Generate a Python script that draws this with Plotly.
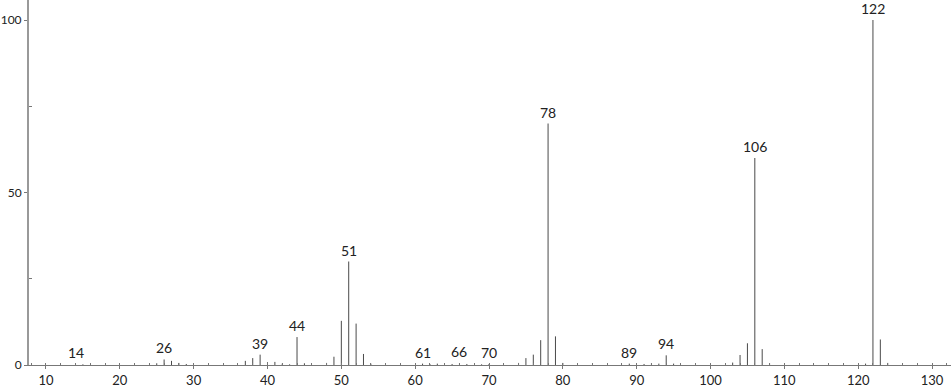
import plotly.graph_objects as go

# m/z values and relative intensities
mz = [14, 15, 25, 26, 27, 28, 29, 37, 38, 39, 40, 41, 42, 43, 44, 45, 48, 49,
      50, 51, 52, 53, 54, 61, 62, 63, 65, 66, 67, 69, 70, 74, 75, 76, 77, 78,
      79, 80, 89, 91, 92, 93, 94, 95, 103, 104, 105, 106, 107, 108, 121, 122,
      123, 124]
intensity = [0.3, 0.2, 0.5, 1.6, 1.2, 0.6, 0.3, 1.2, 2.0, 3.0, 0.8, 0.9, 0.4,
             0.2, 8.1, 0.5, 0.6, 2.4, 12.8, 30.0, 12.0, 3.2, 0.4, 0.4, 0.3,
             0.4, 0.3, 0.5, 0.3, 0.2, 0.3, 0.6, 2.0, 3.0, 7.2, 70.0, 8.3, 0.6,
             0.4, 0.3, 0.5, 0.4, 2.8, 0.4, 0.7, 2.9, 6.3, 60.0, 4.6, 0.5, 0.4,
             100.0, 7.4, 0.6]
labeled_mz = [14, 26, 39, 44, 51, 61, 66, 70, 78, 89, 94, 106, 122]

x_ticks = [10, 20, 30, 40, 50, 60, 70, 80, 90, 100, 110, 120, 130]
y_ticks = [0, 50, 100]

lx, ly = [], []
for m, i in zip(mz, intensity):
    lx += [m, m, None]
    ly += [0, i, None]

fig = go.Figure()
fig.add_trace(go.Scatter(x=lx, y=ly, mode="lines",
                         line=dict(color="#4a4a4a", width=1),
                         hoverinfo="skip", showlegend=False))

for m in labeled_mz:
    fig.add_annotation(x=m, y=intensity[mz.index(m)], text=str(m),
                       showarrow=False, yanchor="bottom", yshift=1,
                       font=dict(family="Lato", size=14, color="#222"))

fig.update_layout(
    width=951, height=389,
    margin=dict(l=29, r=0, t=0, b=24, autoexpand=False),
    paper_bgcolor="white", plot_bgcolor="white",
    font=dict(family="Lato", size=13, color="#222"),
    xaxis=dict(range=[7.7, 132.57], tickvals=x_ticks, showgrid=False,
               automargin=False,
               zeroline=False, showline=True, linecolor="#777", linewidth=1,
               ticks="outside", ticklen=3, tickcolor="#777", ticklabelstandoff=0,
               minor=dict(dtick=2, ticks="inside", ticklen=2, tickcolor="#777"),
               tickfont=dict(family="Lato", size=13, color="#222")),
    yaxis=dict(range=[0, 105.8], tickvals=y_ticks, showgrid=False,
               automargin=False,
               zeroline=False, showline=True, linecolor="#999", linewidth=2,
               ticks="outside", ticklen=3, tickcolor="#777", ticklabelstandoff=0,
               minor=dict(tickvals=[25, 75], ticks="inside", ticklen=3,
                          tickcolor="#777"),
               tickfont=dict(family="Lato", size=12, color="#222")),
)

fig.write_html("out.html")
